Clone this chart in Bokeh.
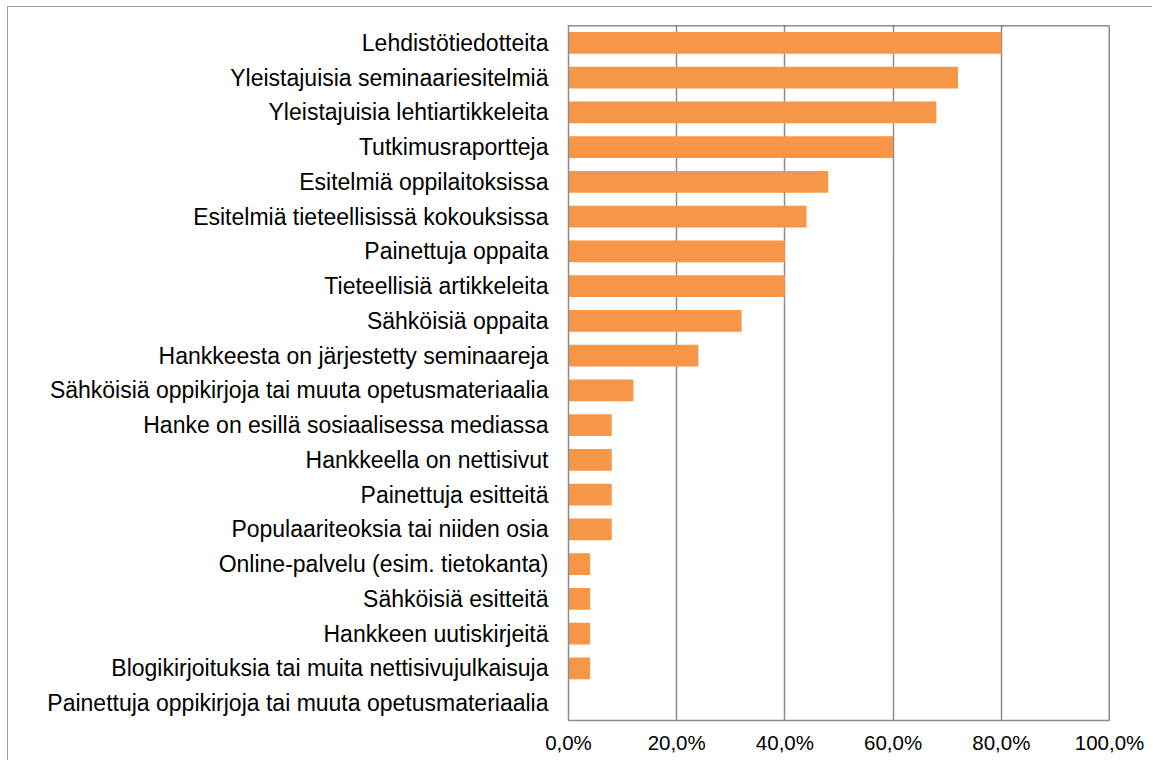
from bokeh.plotting import figure
from bokeh.models import FactorRange, FixedTicker, Span
from bokeh.embed import file_html
from bokeh.resources import INLINE

categories = [
    "Lehdistötiedotteita",
    "Yleistajuisia seminaariesitelmiä",
    "Yleistajuisia lehtiartikkeleita",
    "Tutkimusraportteja",
    "Esitelmiä oppilaitoksissa",
    "Esitelmiä tieteellisissä kokouksissa",
    "Painettuja oppaita",
    "Tieteellisiä artikkeleita",
    "Sähköisiä oppaita",
    "Hankkeesta on järjestetty seminaareja",
    "Sähköisiä oppikirjoja tai muuta opetusmateriaalia",
    "Hanke on esillä sosiaalisessa mediassa",
    "Hankkeella on nettisivut",
    "Painettuja esitteitä",
    "Populaariteoksia tai niiden osia",
    "Online-palvelu (esim. tietokanta)",
    "Sähköisiä esitteitä",
    "Hankkeen uutiskirjeitä",
    "Blogikirjoituksia tai muita nettisivujulkaisuja",
    "Painettuja oppikirjoja tai muuta opetusmateriaalia",
]
values = [80, 72, 68, 60, 48, 44, 40, 40, 32, 24, 12, 8, 8, 8, 8, 4, 4, 4, 4, 0]
x_ticks = [0, 20, 40, 60, 80, 100]
x_tick_labels = ["0,0%", "20,0%", "40,0%", "60,0%", "80,0%", "100,0%"]

FONT = "Liberation Sans"

p = figure(
    width=1145, height=754,
    y_range=FactorRange(factors=list(reversed(categories)), range_padding=0),
    x_range=(0, 100),
    output_backend="svg", toolbar_location=None,
    min_border_left=560, min_border_right=44, min_border_top=18, min_border_bottom=41,
)
p.styles = {"margin-left": "7px", "margin-top": "6px",
            "border-left": "1px solid #a0a0a0", "border-top": "1px solid #a0a0a0"}

p.hbar(y=categories, right=values, left=0, height=0.62, color="#F79646", line_color=None)

p.outline_line_color = None
p.ygrid.grid_line_color = None
p.xgrid.grid_line_color = "#8c8c8c"
p.xgrid.grid_line_width = 1.5

p.xaxis.ticker = FixedTicker(ticks=x_ticks)
p.xaxis.major_label_overrides = {t: l for t, l in zip(x_ticks, x_tick_labels)}
for ax in (p.xaxis, p.yaxis):
    ax.axis_line_color = "#8c8c8c"
    ax.axis_line_width = 1.5
    ax.major_tick_line_color = None
    ax.minor_tick_line_color = None
    ax.major_tick_out = 0
    ax.major_tick_in = 0
    ax.major_label_text_font = FONT
    ax.major_label_text_color = "black"
p.xaxis.major_label_text_font_size = "20.5px"
p.xaxis.major_label_standoff = 10
p.yaxis.major_label_text_font_size = "23px"
p.yaxis.major_label_standoff = 20

p.add_layout(Span(location=100, dimension="height", line_color="#1a1a1a", line_width=1.5))
p.add_layout(Span(location=len(categories), dimension="width", line_color="#1a1a1a", line_width=1.5))

open("out.html", "w").write(file_html(p, INLINE))
